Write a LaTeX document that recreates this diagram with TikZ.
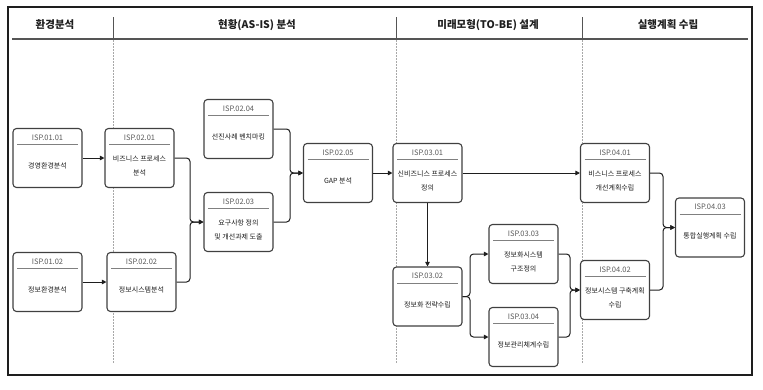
\documentclass[tikz,border=0pt]{standalone}
\usepackage{fontspec}
\newfontfamily\krfont{Noto Sans CJK KR}
\usepackage{tikz}
\usetikzlibrary{arrows.meta,calc}
\usepackage{xcolor}
\definecolor{ink}{HTML}{1E1E1E}
\definecolor{boxline}{HTML}{404040}
\definecolor{idgray}{HTML}{5A5A5A}
\definecolor{rulegray}{HTML}{808080}
\definecolor{lanegray}{HTML}{A8A8A8}
\definecolor{headgray}{HTML}{555555}
\tikzset{
  base/.style={font=\krfont, text=ink},
  head/.style={base, font=\krfont\bfseries\fontsize{10.5}{12}\selectfont},
  ispbox/.style={draw=boxline, line width=1.1pt, rounded corners=3.5pt, fill=white,
    minimum width=69pt, minimum height=59pt, inner sep=0pt,
    path picture={\draw[rulegray, line width=0.9pt]
      ([xshift=4pt,yshift=-16pt]path picture bounding box.north west) --
      ([xshift=-4pt,yshift=-16pt]path picture bounding box.north east);}},
  idtext/.style={base, font=\krfont\fontsize{7.5}{9}\selectfont, text=idgray, inner sep=0pt},
  boxtext/.style={base, font=\krfont\fontsize{7}{13.5}\selectfont, align=center, inner sep=0pt},
  frame/.style={draw=ink, line width=1.6pt},
  headline/.style={draw=headgray, line width=1.3pt},
  colsep/.style={draw=headgray, line width=0.8pt},
  laneline/.style={draw=lanegray, line width=0.8pt, dash pattern=on 1.5pt off 1.5pt},
  link/.style={draw=ink, line width=1pt, -{Triangle[length=4.5pt,width=4.5pt]}},
  merge/.style={link, rounded corners=3.5pt},
}
\begin{document}
\begin{tikzpicture}[x=1pt,y=-1pt]
  \useasboundingbox (0,0) rectangle (763,389);
  \draw[frame] (8,7) rectangle (752,375);

  % phase header
  \node[head] (hEnv) at (55,25) {환경분석};
  \node[head] (hAsis) at (257,25) {현황(AS-IS) 분석};
  \node[head] (hTobe) at (488,25) {미래모형(TO-BE) 설계};
  \node[head] (hPlan) at (668,25) {실행계획 수립};
  \draw[headline] (12,39) -- (748,39);
  \draw[colsep] (113,17) -- (113,39);
  \draw[colsep] (396,17) -- (396,39);
  \draw[colsep] (582,17) -- (582,39);
  \draw[laneline] (113,40) -- (113,363);
  \draw[laneline] (396,40) -- (396,363);
  \draw[laneline] (582,40) -- (582,363);

  % tasks
  \node[ispbox] (p0101) at (47.5,158) {};
  \node[idtext] (p0101id) at ([yshift=-9.5pt]p0101.north) {ISP.01.01};
  \node[boxtext] (p0101tx) at ([yshift=-8pt]p0101.center) {경영환경분석};
  \node[ispbox] (p0102) at (47.5,282) {};
  \node[idtext] (p0102id) at ([yshift=-9.5pt]p0102.north) {ISP.01.02};
  \node[boxtext] (p0102tx) at ([yshift=-8pt]p0102.center) {정보환경분석};

  \node[ispbox] (p0201) at (139.5,158) {};
  \node[idtext] (p0201id) at ([yshift=-9.5pt]p0201.north) {ISP.02.01};
  \node[boxtext] (p0201tx) at ([yshift=-8pt]p0201.center) {비즈니스 프로세스\\분석};
  \node[ispbox] (p0202) at (141.5,282) {};
  \node[idtext] (p0202id) at ([yshift=-9.5pt]p0202.north) {ISP.02.02};
  \node[boxtext] (p0202tx) at ([yshift=-8pt]p0202.center) {정보시스템분석};
  \node[ispbox] (p0204) at (238.5,129) {};
  \node[idtext] (p0204id) at ([yshift=-9.5pt]p0204.north) {ISP.02.04};
  \node[boxtext] (p0204tx) at ([yshift=-8pt]p0204.center) {선진사례 벤치마킹};
  \node[ispbox] (p0203) at (238.5,222) {};
  \node[idtext] (p0203id) at ([yshift=-9.5pt]p0203.north) {ISP.02.03};
  \node[boxtext] (p0203tx) at ([yshift=-8pt]p0203.center) {요구사항 정의\\및 개선과제 도출};
  \node[ispbox] (p0205) at (338,173) {};
  \node[idtext] (p0205id) at ([yshift=-9.5pt]p0205.north) {ISP.02.05};
  \node[boxtext] (p0205tx) at ([yshift=-8pt]p0205.center) {GAP 분석};

  \node[ispbox] (p0301) at (427.5,173) {};
  \node[idtext] (p0301id) at ([yshift=-9.5pt]p0301.north) {ISP.03.01};
  \node[boxtext] (p0301tx) at ([yshift=-8pt]p0301.center) {신비즈니스 프로세스\\정의};
  \node[ispbox] (p0302) at (427.5,296.5) {};
  \node[idtext] (p0302id) at ([yshift=-9.5pt]p0302.north) {ISP.03.02};
  \node[boxtext] (p0302tx) at ([yshift=-8pt]p0302.center) {정보화 전략수립};
  \node[ispbox] (p0303) at (523.5,254) {};
  \node[idtext] (p0303id) at ([yshift=-9.5pt]p0303.north) {ISP.03.03};
  \node[boxtext] (p0303tx) at ([yshift=-8pt]p0303.center) {정보화시스템\\구조정의};
  \node[ispbox] (p0304) at (523.5,337) {};
  \node[idtext] (p0304id) at ([yshift=-9.5pt]p0304.north) {ISP.03.04};
  \node[boxtext] (p0304tx) at ([yshift=-8pt]p0304.center) {정보관리체계수립};

  \node[ispbox] (p0401) at (615,173) {};
  \node[idtext] (p0401id) at ([yshift=-9.5pt]p0401.north) {ISP.04.01};
  \node[boxtext] (p0401tx) at ([yshift=-8pt]p0401.center) {비스니스 프로세스\\개선계획수립};
  \node[ispbox] (p0402) at (615,290) {};
  \node[idtext] (p0402id) at ([yshift=-9.5pt]p0402.north) {ISP.04.02};
  \node[boxtext] (p0402tx) at ([yshift=-8pt]p0402.center) {정보시스템 구축계획\\수립};
  \node[ispbox] (p0403) at (710,227.5) {};
  \node[idtext] (p0403id) at ([yshift=-9.5pt]p0403.north) {ISP.04.03};
  \node[boxtext] (p0403tx) at ([yshift=-8pt]p0403.center) {통합실행계획 수립};

  % flows
  \coordinate (j1) at (190,222);
  \coordinate (j2) at (290,173);
  \coordinate (j3) at (470,296.5);
  \coordinate (j4) at (570,290);
  \coordinate (j5) at (663,227.5);
  \draw[link] (p0101.east) -- (p0201.west);
  \draw[link] (p0102.east) -- (p0202.west);
  \draw[merge] (p0201.east) -| (j1) -- (p0203.west);
  \draw[merge] (p0202.east) -| (j1) -- (p0203.west);
  \draw[merge] (p0204.east) -| (j2) -- (p0205.west);
  \draw[merge] (p0203.east) -| (j2) -- (p0205.west);
  \draw[link] (p0205.east) -- (p0301.west);
  \draw[link] (p0301.east) -- (p0401.west);
  \draw[link] (p0301.south) -- (p0302.north);
  \draw[merge] (p0302.east) -- (j3) |- (p0303.west);
  \draw[merge] (p0302.east) -- (j3) |- (p0304.west);
  \draw[merge] (p0303.east) -| (j4) -- (p0402.west);
  \draw[merge] (p0304.east) -| (j4) -- (p0402.west);
  \draw[merge] (p0401.east) -| (j5) -- (p0403.west);
  \draw[merge] (p0402.east) -| (j5) -- (p0403.west);
\end{tikzpicture}
\end{document}
